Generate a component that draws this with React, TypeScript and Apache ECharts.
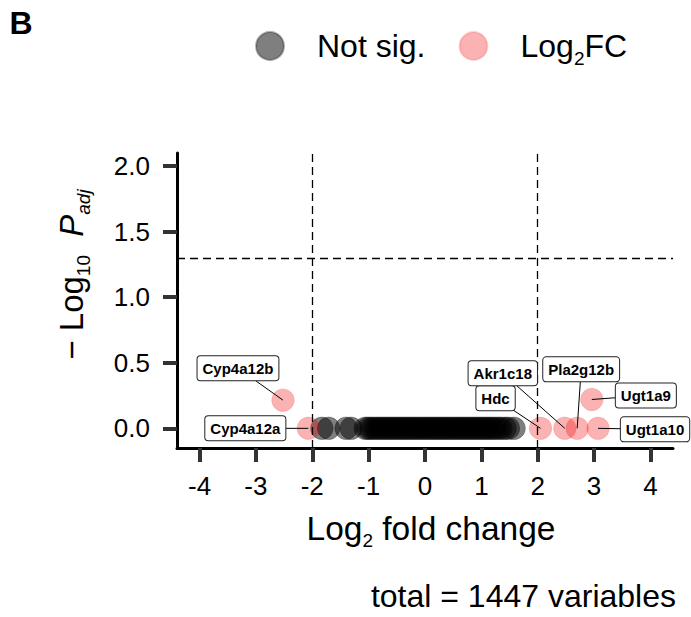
import React, { useEffect, useRef } from "react";
import * as echarts from "echarts";

// ---- data ----
const xTickValues = [-4, -3, -2, -1, 0, 1, 2, 3, 4];
const yTickValues = [0, 0.5, 1, 1.5, 2];

// not significant variables (log2 fold change), all at -log10 Padj = 0
const notSigLog2FC = [
  -1.83, -1.71, -1.4, -1.31, -1.06, -1.01, -0.96, -0.91, -0.86, -0.81, -0.76,
  -0.71, -0.66, -0.61, -0.56, -0.51, -0.46, -0.41, -0.36, -0.31, -0.26, -0.21,
  -0.16, -0.11, -0.06, -0.01, 0.04, 0.09, 0.14, 0.19, 0.24, 0.29, 0.34, 0.39,
  0.44, 0.49, 0.54, 0.59, 0.64, 0.69, 0.74, 0.79, 0.84, 0.89, 0.94, 0.99, 1.04,
  1.09, 1.14, 1.19, 1.24, 1.3, 1.35, 1.42, 1.48, 1.58,
];
const notSigNegLog10P = [
  0, 0, 0, 0, 0, 0, 0, 0, 0, 0, 0, 0, 0, 0, 0, 0, 0, 0, 0, 0, 0, 0, 0, 0, 0, 0,
  0, 0, 0, 0, 0, 0, 0, 0, 0, 0, 0, 0, 0, 0, 0, 0, 0, 0, 0, 0, 0, 0, 0, 0, 0, 0,
  0, 0, 0, 0,
];

const sigGenes = ["Cyp4a12b", "Cyp4a12a", "Hdc", "Akr1c18", "Pla2g12b", "Ugt1a9", "Ugt1a10"];
const sigLog2FC = [-2.52, -2.07, 2.05, 2.48, 2.7, 2.96, 3.07];
const sigNegLog10P = [0.215, 0, 0, 0, 0, 0.22, 0];

const fcCutoff = 2;
const pCutoff = 1.30103;
const totalVariables = 1447;

// ---- layout (pixel offsets of gene labels from their point) ----
const labelOffsets: Record<string, [number, number]> = {
  Cyp4a12b: [-45, -32],
  Cyp4a12a: [-63, 0],
  Hdc: [-45, -30],
  Akr1c18: [-62, -55],
  Pla2g12b: [4, -59],
  Ugt1a9: [54, -4],
  Ugt1a10: [57, 1],
};

const FONT = '"Liberation Sans", Arial, Helvetica, sans-serif';

const makeRich = (size: number) => ({
  a: { fontSize: size, lineHeight: 44, fontFamily: FONT, color: "#000" },
  s: { fontSize: 19, lineHeight: 18, verticalAlign: "bottom", fontFamily: FONT, color: "#000" },
  i: { fontSize: size, lineHeight: 44, fontStyle: "italic", fontFamily: FONT, color: "#000" },
  si: { fontSize: 19, lineHeight: 18, verticalAlign: "bottom", fontStyle: "italic", fontFamily: FONT, color: "#000" },
  gap: { width: 28, lineHeight: 44, fontSize: 32 },
});

export default function App() {
  const ref = useRef<HTMLDivElement>(null);

  useEffect(() => {
    document.body.style.margin = "0";
    if (!ref.current) return;
    const chart = echarts.init(ref.current, null, { renderer: "svg" });

    const notSigData = notSigLog2FC.map((x, i) => [x, notSigNegLog10P[i]]);
    const sigData = sigLog2FC.map((x, i) => ({ name: sigGenes[i], value: [x, sigNegLog10P[i]] }));

    chart.setOption({
      animation: false,
      textStyle: { fontFamily: FONT },
      grid: { left: 177, right: 18, top: 153, bottom: 169, containLabel: false },
      legend: {
        left: 255,
        top: 30,
        padding: 0,
        itemWidth: 28,
        itemHeight: 28,
        itemGap: 33,
        selectedMode: false,
        data: ["Not sig.", "Log2FC"],
        formatter: (name: string) =>
          name === "Log2FC" ? "{gap| }{a|Log}{s|2}{a|FC}" : "{gap| }{a|Not sig.}",
        textStyle: { fontSize: 32, color: "#000", fontFamily: FONT, rich: makeRich(32) },
      },
      xAxis: {
        type: "value",
        min: -4.4,
        max: 4.4,
        splitLine: { show: false },
        axisLine: { show: true, onZero: false, lineStyle: { color: "#000", width: 3 } },
        axisTick: { show: true, length: 14, customValues: xTickValues, lineStyle: { color: "#333", width: 4 } },
        axisLabel: {
          customValues: xTickValues,
          fontSize: 26,
          color: "#000",
          margin: 25,
          formatter: (v: number) => String(v),
        },
        name: "{a|Log}{s|2}{a| fold change}",
        nameLocation: "middle",
        nameGap: 58,
        nameTextStyle: { rich: makeRich(33.5), padding: [0, 0, 0, 12] },
      },
      yAxis: {
        type: "value",
        min: -0.15,
        max: 2.1,
        splitLine: { show: false },
        axisLine: { show: true, onZero: false, lineStyle: { color: "#000", width: 3 } },
        axisTick: { show: true, length: 14, customValues: yTickValues, lineStyle: { color: "#333", width: 4 } },
        axisLabel: {
          customValues: yTickValues,
          fontSize: 26,
          color: "#000",
          margin: 27,
          formatter: (v: number) => v.toFixed(1),
        },
        name: "{a|\u2212 Log}{s|10}{a|  }{i|P}{si|adj}",
        nameLocation: "middle",
        nameRotate: 90,
        nameGap: 84,
        nameTextStyle: { rich: makeRich(33), padding: [0, 0, 0, 52] },
      },
      series: [
        {
          name: "Not sig.",
          type: "scatter",
          symbol: "circle",
          symbolSize: 22.5,
          data: notSigData,
          itemStyle: { color: "rgba(0,0,0,0.5)", borderColor: "rgba(0,0,0,0.3)", borderWidth: 1, opacity: 1 },
          emphasis: { disabled: true },
          z: 2,
        },
        {
          name: "Log2FC",
          type: "scatter",
          symbol: "circle",
          symbolSize: 22.5,
          data: sigData,
          itemStyle: { color: "rgba(238,0,0,0.3)", borderColor: "rgba(238,0,0,0.15)", borderWidth: 1, opacity: 1 },
          emphasis: { disabled: true },
          z: 3,
          markLine: {
            silent: true,
            symbol: "none",
            label: { show: false },
            lineStyle: { color: "#000", type: [8, 5], width: 1.3 },
            data: [{ xAxis: -fcCutoff }, { xAxis: fcCutoff }, { yAxis: pCutoff }],
          },
        },
      ],
      graphic: [
        {
          type: "text",
          id: "panelTag",
          x: 9.5,
          y: 23.3,
          style: { text: "B", font: `bold 32px ${FONT}`, fill: "#000", align: "left", verticalAlign: "middle" },
        },
        {
          type: "text",
          id: "caption",
          x: 676,
          y: 595.6,
          style: {
            text: `total = ${totalVariables} variables`,
            font: `32px ${FONT}`,
            fill: "#000",
            align: "right",
            verticalAlign: "middle",
          },
        },
      ],
    });

    // gene labels (repel-style boxes with connector segments)
    const labelEls: any[] = [];
    sigGenes.forEach((g, i) => {
      const p = chart.convertToPixel({ gridIndex: 0 }, [sigLog2FC[i], sigNegLog10P[i]]) as number[];
      const off = labelOffsets[g];
      const cx = p[0] + off[0];
      const cy = p[1] + off[1];
      labelEls.push({
        type: "line",
        id: "seg_" + g,
        z: 20,
        silent: true,
        shape: { x1: p[0], y1: p[1], x2: cx, y2: cy },
        style: { stroke: "#000", lineWidth: 1 },
      });
      labelEls.push({
        type: "text",
        id: "lab_" + g,
        z: 21,
        silent: true,
        x: cx,
        y: cy,
        style: {
          text: g,
          font: `bold 15px ${FONT}`,
          fill: "#000",
          align: "center",
          verticalAlign: "middle",
          backgroundColor: "#fff",
          borderColor: "#222",
          borderWidth: 1,
          borderRadius: 3,
          padding: [5, 5, 4, 5],
        },
      });
    });
    chart.setOption({ graphic: labelEls });

    return () => chart.dispose();
  }, []);

  return <div ref={ref} style={{ width: 691, height: 617 }} />;
}
